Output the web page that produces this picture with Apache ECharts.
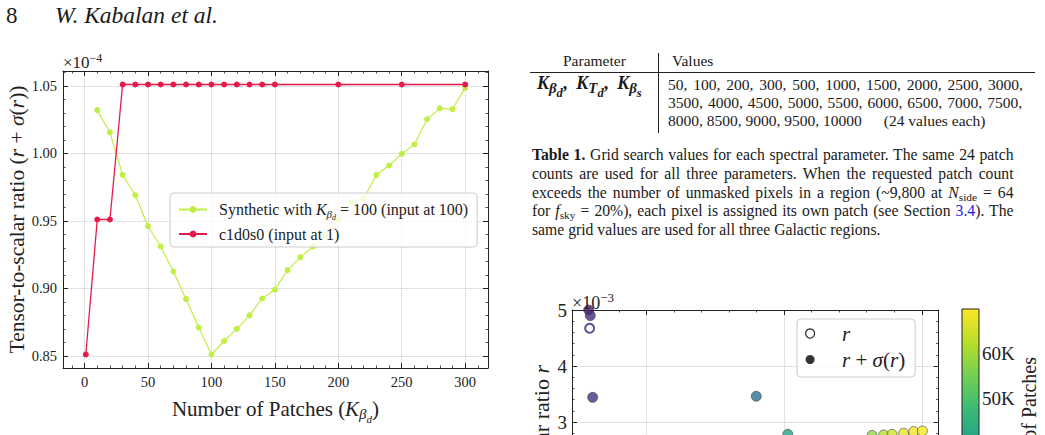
<!DOCTYPE html>
<html>
<head>
<meta charset="utf-8">
<title>Kabalan et al. – page 8</title>
<script src="https://cdn.jsdelivr.net/npm/echarts@6.0.0/dist/echarts.min.js"></script>
<style>
  html, body { margin:0; padding:0; background:#fff; }
  #page { position:relative; width:1045px; height:435px; overflow:hidden;
          font-family:'Liberation Serif','DejaVu Serif',serif; color:#1a1a1a; }
  #chart { position:absolute; left:0; top:0; width:1045px; height:435px; }
  .t { position:absolute; white-space:nowrap; }
  .tb { font-size:15.5px; line-height:18.3px; }
  .cap { font-size:15.7px; line-height:18.75px; }
  .rule { position:absolute; background:#222; }
  sub { font-size:0.72em; vertical-align:-0.28em; line-height:0; }
  sub sub { font-size:0.8em; }
  .kp sub { font-size:0.82em; vertical-align:-0.3em; }
  .kp sub sub { font-size:0.85em; }
  .blue { color:#1a1aee; }
</style>
</head>
<body>
<div id="page">
  <div id="chart"></div>

  <!-- running head -->
  <div class="t" style="left:6px;top:4px;font-size:23px;line-height:23px;">8</div>
  <div class="t" style="left:55px;top:4px;font-size:23.5px;line-height:23px;font-style:italic;">W. Kabalan et al.</div>

  <!-- Table 1 -->
  <div class="t tb" style="left:563px;top:52.3px;">Parameter</div>
  <div class="t tb" style="left:672px;top:52.3px;">Values</div>
  <div class="rule" style="left:530px;top:72px;width:505px;height:1px;"></div>
  <div class="rule" style="left:658px;top:53px;width:1px;height:80px;"></div>
  <div class="t tb kp" style="left:537px;top:74px;font-size:18px;font-weight:bold;"><i>K</i><sub><i>β</i><sub><i>d</i></sub></sub>,&nbsp; <i>K</i><sub><i>T</i><sub><i>d</i></sub></sub>,&nbsp; <i>K</i><sub><i>β</i><sub><i>s</i></sub></sub></div>
  <div class="t tb fit" data-w="355" style="left:668px;top:75.6px;">50, 100, 200, 300, 500, 1000, 1500, 2000, 2500, 3000,</div>
  <div class="t tb fit" data-w="354" style="left:668px;top:94px;">3500, 4000, 4500, 5000, 5500, 6000, 6500, 7000, 7500,</div>
  <div class="t tb" style="left:668px;top:112.3px;">8000, 8500, 9000, 9500, 10000<span style="margin-left:22px;">(24 values each)</span></div>

  <!-- caption -->
  <div class="t cap fit" data-w="481.5" style="left:532px;top:146px;"><b>Table 1.</b> Grid search values for each spectral parameter. The same 24 patch</div>
  <div class="t cap fit" data-w="481.5" style="left:532px;top:164.7px;">counts are used for all three parameters. When the requested patch count</div>
  <div class="t cap fit" data-w="481.5" style="left:532px;top:183.5px;">exceeds the number of unmasked pixels in a region (~9,800 at <i>N</i><sub>side</sub> = 64</div>
  <div class="t cap fit" data-w="481.5" style="left:532px;top:202.2px;">for <i>f</i><sub>sky</sub> = 20%), each pixel is assigned its own patch (see Section <span class="blue">3.4</span>). The</div>
  <div class="t cap" style="left:532px;top:221px;">same grid values are used for all three Galactic regions.</div>
</div>

<script>
// ---------------- data: left panel (r + sigma(r), units of 1e-4) ----------------
const synthK = [10, 20, 30, 40, 50, 60, 70, 80, 90, 100, 110, 120, 130, 140, 150,
                160, 170, 180, 190, 200, 210, 220, 230, 240, 250, 260, 270, 280, 290, 300];
const synthR = [1.032, 1.0155, 0.984, 0.969, 0.946, 0.931, 0.9125, 0.892, 0.871, 0.851,
                0.861, 0.870, 0.880, 0.8925, 0.899, 0.9135, 0.923, 0.931, 0.9394, 0.951,
                0.9636, 0.9666, 0.984, 0.991, 0.9996, 1.0066, 1.0253, 1.0333, 1.0327, 1.0485];
const c1K = [1, 10, 20, 30, 40, 50, 60, 70, 80, 90, 100, 110, 120, 130, 140, 150, 200, 250, 300];
const c1R = [0.851, 0.951, 0.951, 1.051, 1.051, 1.051, 1.051, 1.051, 1.051, 1.051,
             1.051, 1.051, 1.051, 1.051, 1.051, 1.051, 1.051, 1.051, 1.051];
const SYN_NAME = 'Synthetic with K_βd = 100 (input at 100)';
const C1_NAME = 'c1d0s0 (input at 1)';

// ---------------- data: lower-right panel (partially visible, units of 1e-3) ----------------
const sigX = [5.81, 5.93, 6.10, 17.98, 20.27, 26.39, 27.23, 27.84, 28.68, 29.41, 30.04];
const sigY = [5.00, 4.90, 3.44, 3.46, 2.78, 2.76, 2.77, 2.78, 2.80, 2.83, 2.84];
const sigPatches = [5000, 9000, 11000, 26000, 40000, 58000, 62000, 65000, 67000, 68500, 69500];
const rX = [5.88];
const rY = [4.675];
const rPatches = [9000];
// tick labels of the lower-right panel that fall inside the visible page
const scatterYLabels = [3, 4, 5];
const colorbarLabels = [50000, 60000];

const viridis = ['#440154', '#482878', '#3e4989', '#31688e', '#26828e',
                 '#1f9e89', '#35b779', '#6ece58', '#b5de2b', '#fde725'];

// ---------------- styling helpers ----------------
const F = "'Liberation Serif', 'DejaVu Serif', serif";
const INK = '#222';
function mathRich(fs) {
  return {
    a:  { fontFamily: F, fontSize: fs, color: INK, lineHeight: Math.round(fs * 1.2) },
    i:  { fontFamily: F, fontSize: fs, color: INK, fontStyle: 'italic', lineHeight: Math.round(fs * 1.2) },
    s:  { fontFamily: F, fontSize: Math.round(fs * 0.7), color: INK, fontStyle: 'italic',
          lineHeight: Math.round(fs * 0.35), padding: [Math.round(fs * 0.48), 0, 0, 0] },
    ss: { fontFamily: F, fontSize: Math.round(fs * 0.5), color: INK, fontStyle: 'italic',
          lineHeight: Math.round(fs * 0.2), padding: [Math.round(fs * 0.95), 0, 0, 0] }
  };
}
const axisFrame = { show: true, onZero: false, lineStyle: { color: INK, width: 1 } };
const ticksIn = len => ({ show: true, inside: true, length: len, lineStyle: { color: INK, width: 1 } });
const minorIn = (len, n) => ({ show: true, splitNumber: n, length: len, lineStyle: { color: INK, width: 0.8 } });
const gridLine = { show: true, lineStyle: { color: '#b5b5b5', width: 0.8, type: 'dotted' } };
const noLabel = { show: false };
const isMult = (v, step) => Math.abs(v / step - Math.round(v / step)) < 1e-6;
const inList = (v, list) => list.some(x => Math.abs(x - v) < 1e-6);

const synthData = synthK.map((k, i) => [k, synthR[i]]);
const c1Data = c1K.map((k, i) => [k, c1R[i]]);
const sigData = sigX.map((x, i) => [x, sigY[i], sigPatches[i]]);
const rData = rX.map((x, i) => [x, rY[i], rPatches[i]]);

const chart = echarts.init(document.getElementById('chart'), null, { renderer: 'svg' });

const option = {
  animation: false,
  backgroundColor: 'transparent',
  grid: [
    { left: 63, top: 71, width: 425, height: 297, outerBoundsMode: 'none', containLabel: false },
    { left: 572, top: 310, width: 366.6, height: 280, outerBoundsMode: 'none', containLabel: false },
    { left: 962, top: 309, width: 17, height: 314, outerBoundsMode: 'none', containLabel: false,
      show: true, borderColor: INK, borderWidth: 1, backgroundColor: 'transparent', z: 10 }
  ],
  xAxis: [
    { gridIndex: 0, type: 'value', min: -17, max: 318, position: 'bottom',
      axisLine: axisFrame, axisTick: ticksIn(5), minorTick: minorIn(2.5, 5), splitLine: gridLine,
      axisLabel: { fontFamily: F, fontSize: 14.5, color: INK, margin: 6, showMinLabel: false, showMaxLabel: false,
                   formatter: v => (isMult(v, 50) ? String(Math.round(v)) : '') },
      name: '{a|Number of Patches (}{i|K}{s|β}{ss|d}{a|)}', nameLocation: 'middle', nameGap: 18,
      nameTextStyle: { rich: mathRich(21), verticalAlign: 'top' } },
    { gridIndex: 0, type: 'value', min: -17, max: 318, position: 'top',
      axisLine: axisFrame, axisTick: ticksIn(5), minorTick: minorIn(2.5, 5), splitLine: { show: false },
      axisLabel: noLabel },
    { gridIndex: 1, type: 'value', min: 4.6, max: 31.22, splitNumber: 2, position: 'bottom',
      axisLine: axisFrame, axisTick: ticksIn(5), minorTick: minorIn(2.5, 5), splitLine: gridLine,
      axisLabel: noLabel },
    { gridIndex: 1, type: 'value', min: 4.6, max: 31.22, splitNumber: 2, position: 'top',
      axisLine: axisFrame, axisTick: ticksIn(5), minorTick: minorIn(2.5, 5), splitLine: { show: false },
      axisLabel: noLabel },
    { gridIndex: 2, type: 'value', min: 0, max: 1, show: false }
  ],
  yAxis: [
    { gridIndex: 0, type: 'value', min: 0.841, max: 1.061, position: 'left',
      axisLine: axisFrame, axisTick: ticksIn(5), minorTick: minorIn(2.5, 5), splitLine: gridLine,
      axisLabel: { fontFamily: F, fontSize: 14.5, color: INK, margin: 6, showMinLabel: false, showMaxLabel: false,
                   formatter: v => (isMult(v, 0.05) ? v.toFixed(2) : '') },
      name: '{a|Tensor-to-scalar ratio (}{i|r}{a| + }{i|σ}{a|(}{i|r}{a|))}', nameLocation: 'middle', nameGap: 31,
      nameTextStyle: { rich: mathRich(21.5) } },
    { gridIndex: 0, type: 'value', min: 0.841, max: 1.061, position: 'right',
      axisLine: axisFrame, axisTick: ticksIn(5), minorTick: minorIn(2.5, 5), splitLine: { show: false },
      axisLabel: noLabel },
    { gridIndex: 1, type: 'value', min: 0, max: 5, position: 'left',
      axisLine: axisFrame, axisTick: ticksIn(5), minorTick: minorIn(2.5, 5), splitLine: gridLine,
      axisLabel: { fontFamily: F, fontSize: 19, color: INK, margin: 5,
                   formatter: v => (inList(v, scatterYLabels) ? String(v) : '') } },
    { gridIndex: 1, type: 'value', min: 0, max: 5, position: 'right',
      axisLine: axisFrame, axisTick: ticksIn(5), minorTick: minorIn(2.5, 5), splitLine: { show: false },
      axisLabel: noLabel },
    { gridIndex: 2, type: 'value', min: 0, max: 69800, position: 'right',
      axisLine: { show: false }, axisTick: { show: true, inside: false, length: 4, lineStyle: { color: INK } },
      minorTick: { show: true, splitNumber: 5, length: 2, lineStyle: { color: INK } },
      splitLine: { show: false },
      axisLabel: { fontFamily: F, fontSize: 19, color: INK, margin: 3, showMaxLabel: false, showMinLabel: false,
                   formatter: v => (inList(v, colorbarLabels) ? (v / 1000) + 'K' : '') } }
  ],
  legend: [
    { data: [SYN_NAME, C1_NAME], orient: 'vertical', left: 170, top: 193,
      padding: [5, 9, 5, 8], itemGap: 5, itemWidth: 28, itemHeight: 8.5,
      backgroundColor: 'rgba(255,255,255,0.8)', borderColor: '#cccccc', borderWidth: 1, borderRadius: 4,
      textStyle: { fontFamily: F, fontSize: 16, color: INK, padding: [0, 0, 0, 7], rich: mathRich(16) },
      formatter: n => (n === SYN_NAME
        ? '{a|Synthetic with }{i|K}{s|β}{ss|d}{a| = 100 (input at 100)}'
        : '{a|c1d0s0 (input at 1)}') },
    { data: [
        { name: 'r', icon: 'circle', itemStyle: { color: '#ffffff', borderColor: '#000', borderWidth: 1.2 } },
        { name: 'r + σ(r)', icon: 'circle', itemStyle: { color: '#000', borderColor: '#000', borderWidth: 0 } } ],
      orient: 'vertical', left: 797, top: 319, padding: [4, 10, 7, 8], itemGap: 5,
      itemWidth: 36, itemHeight: 9,
      backgroundColor: 'rgba(255,255,255,0.8)', borderColor: '#cccccc', borderWidth: 1, borderRadius: 4,
      textStyle: { fontFamily: F, fontSize: 21, color: INK, padding: [0, 0, 0, 9], rich: mathRich(21) },
      formatter: n => (n === 'r' ? '{i|r}' : '{i|r}{a| + }{i|σ}{a|(}{i|r}{a|)}') }
  ],
  visualMap: {
    type: 'continuous', seriesIndex: [2, 3], dimension: 2, min: 0, max: 69800,
    left: 962, top: 309, itemWidth: 17, itemHeight: 314, padding: 0,
    calculable: false, orient: 'vertical', text: null, hoverLink: false,
    inRange: { color: viridis }, textStyle: { color: 'transparent' }
  },
  graphic: [
    { type: 'text', x: 63, y: 62.5, z: 50,
      style: { text: '{a|×10}{sup|−4}', rich: { a: { fontFamily: F, fontSize: 17, fill: INK },
                                                  sup: { fontFamily: F, fontSize: 12, fill: INK, padding: [0, 0, 10, 0] } },
               align: 'left', verticalAlign: 'middle' } },
    { type: 'text', x: 572, y: 303, z: 50,
      style: { text: '{a|×10}{sup|−3}', rich: { a: { fontFamily: F, fontSize: 18, fill: INK },
                                                  sup: { fontFamily: F, fontSize: 13, fill: INK, padding: [0, 0, 11, 0] } },
               align: 'left', verticalAlign: 'middle' } },
    { type: 'text', x: 541, y: 365, rotation: Math.PI / 2, z: 50,
      style: { text: '{a|Tensor-to-scalar ratio }{i|r}',
               rich: { a: { fontFamily: F, fontSize: 22, fill: INK }, i: { fontFamily: F, fontSize: 22, fontStyle: 'italic', fill: INK } },
               align: 'right', verticalAlign: 'middle' } },
    { type: 'text', x: 1029, y: 357, rotation: Math.PI / 2, z: 50,
      style: { text: 'Number of Patches', fontFamily: F, fontSize: 20, fill: INK,
               align: 'right', verticalAlign: 'middle' } }
  ],
  series: [
    { name: SYN_NAME, type: 'line', xAxisIndex: 0, yAxisIndex: 0, data: synthData,
      color: '#bfef45', lineStyle: { width: 1.2 }, symbol: 'circle', symbolSize: 6, showSymbol: true,
      itemStyle: { color: '#bfef45' }, z: 3 },
    { name: C1_NAME, type: 'line', xAxisIndex: 0, yAxisIndex: 0, data: c1Data,
      color: '#e6194b', lineStyle: { width: 1.3 }, symbol: 'circle', symbolSize: 6, showSymbol: true,
      itemStyle: { color: '#e6194b' }, z: 4 },
    { name: 'r', type: 'scatter', xAxisIndex: 2, yAxisIndex: 2, data: rData,
      symbol: 'emptyCircle', symbolSize: 9, itemStyle: { borderWidth: 1.1, opacity: 0.85 }, z: 3 },
    { name: 'r + σ(r)', type: 'scatter', xAxisIndex: 2, yAxisIndex: 2, data: sigData,
      symbol: 'circle', symbolSize: 10, itemStyle: { borderColor: '#333', borderWidth: 0.7, opacity: 0.8 }, z: 4 }
  ]
};
chart.setOption(option);

// justify caption / table lines to the measured column width
document.querySelectorAll('.fit').forEach(el => {
  const target = parseFloat(el.dataset.w);
  const nat = el.getBoundingClientRect().width;
  const spaces = (el.textContent.match(/ /g) || []).length;
  if (spaces) el.style.wordSpacing = ((target - nat) / spaces) + 'px';
});
</script>
</body>
</html>
